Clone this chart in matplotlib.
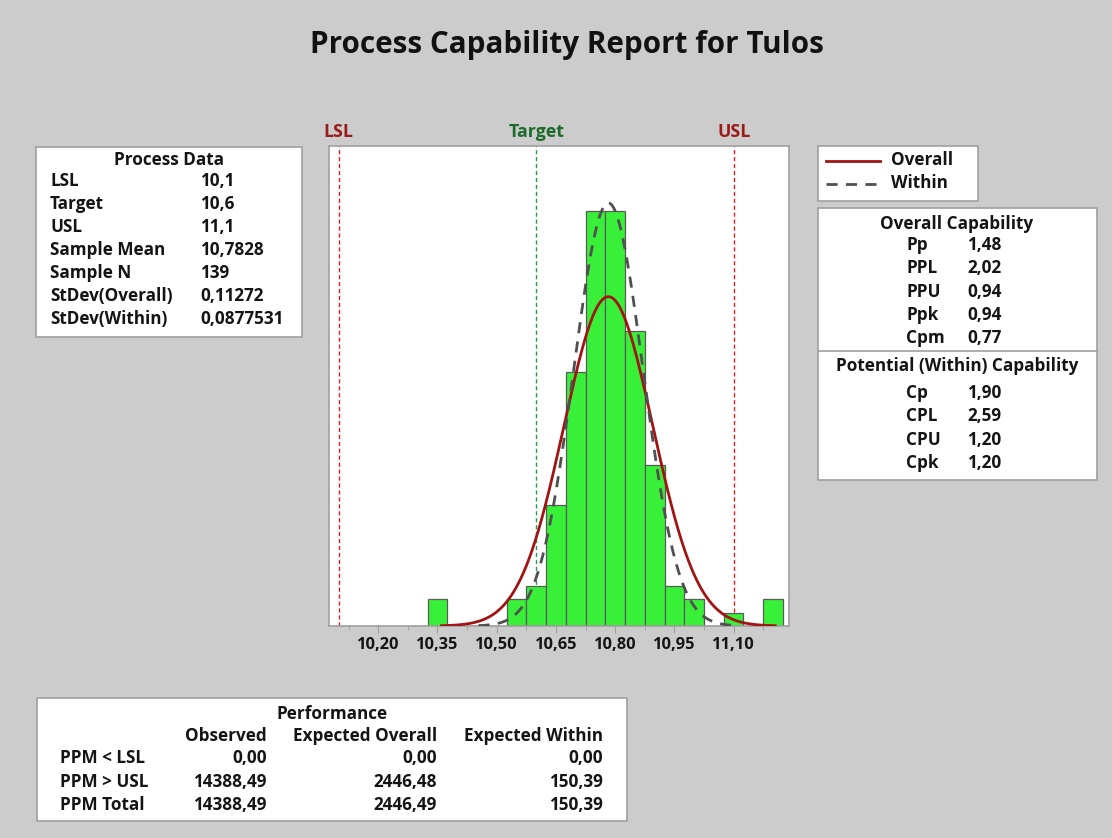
import matplotlib
matplotlib.use("Agg")
import matplotlib.pyplot as plt
import matplotlib.ticker as mticker
from matplotlib.patches import Rectangle
import numpy as np

# ---- data ----
bin_centers = [10.35, 10.40, 10.45, 10.50, 10.55, 10.60, 10.65, 10.70, 10.75,
               10.80, 10.85, 10.90, 10.95, 11.00, 11.05, 11.10, 11.15, 11.20]
bin_counts = [2, 0, 0, 0, 2, 3, 9, 19, 31, 31, 22, 12, 3, 2, 0, 1, 0, 2]
bin_width = 0.05

lsl, target, usl = 10.1, 10.6, 11.1
sample_mean = 10.7828
sample_n = 139
sd_overall = 0.11272
sd_within = 0.0877531

xtick_values = [10.20, 10.35, 10.50, 10.65, 10.80, 10.95, 11.10]

process_labels = ["LSL", "Target", "USL", "Sample Mean", "Sample N",
                  "StDev(Overall)", "StDev(Within)"]
process_values = ["10,1", "10,6", "11,1", "10,7828", "139", "0,11272", "0,0877531"]

overall_labels = ["Pp", "PPL", "PPU", "Ppk", "Cpm"]
overall_values = ["1,48", "2,02", "0,94", "0,94", "0,77"]
within_labels = ["Cp", "CPL", "CPU", "Cpk"]
within_values = ["1,90", "2,59", "1,20", "1,20"]

perf_columns = ["Observed", "Expected Overall", "Expected Within"]
perf_rows = ["PPM < LSL", "PPM > USL", "PPM Total"]
perf_observed = ["0,00", "14388,49", "14388,49"]
perf_exp_overall = ["0,00", "2446,48", "2446,49"]
perf_exp_within = ["0,00", "150,39", "150,39"]

# ---- styling ----
W, H = 1112, 838
BG = "#cccccc"
BOX_EDGE = "#a0a0a0"
plt.rcParams["font.family"] = ["Open Sans", "DejaVu Sans"]
WEIGHT = "bold"
SIZE = 12.3

fig = plt.figure(figsize=(W / 100, H / 100), dpi=100, facecolor=BG)


def fx(px):
    return px / W


def fy(py):
    return 1 - py / H


def box(x0, y0, x1, y1):
    fig.patches.append(Rectangle((fx(x0), fy(y1)), fx(x1) - fx(x0), fy(y0) - fy(y1),
                                 transform=fig.transFigure, facecolor="white",
                                 edgecolor=BOX_EDGE, linewidth=1.2, zorder=0))


def txt(x, y, s, ha="left", size=SIZE, color="#141414"):
    fig.text(fx(x), fy(y), s, ha=ha, va="center", fontsize=size, color=color,
             fontweight=WEIGHT)


fig.text(fx(567), fy(45), "Process Capability Report for Tulos", ha="center",
         va="center", fontsize=21.3, fontweight=WEIGHT, color="#111111")

# ---- histogram ----
ax = fig.add_axes([fx(329.3), fy(626), fx(789.3) - fx(329.3), fy(146) - fy(626)])
ax.set_facecolor("white")
ax.bar(bin_centers, bin_counts, width=bin_width, color="#39f039",
       edgecolor="#5a5a5a", linewidth=0.9, zorder=2)

# fitted normal curves from the reported mean / standard deviations
for sd, color, ls in [(sd_overall, "#a01414", "-"),
                      (sd_within, "#505050", (0, (4, 3)))]:
    xs = np.linspace(sample_mean - 3.75 * sd, sample_mean + 3.75 * sd, 400)
    ys = sample_n * bin_width * np.exp(-0.5 * ((xs - sample_mean) / sd) ** 2) / (sd * np.sqrt(2 * np.pi))
    ax.plot(xs, ys, color=color, linestyle=ls, linewidth=2.0, zorder=3)

for val, name, lcol, tcol in [(lsl, "LSL", "#e02020", "#9b1b1b"),
                              (target, "Target", "#2a9a4a", "#1b6b2b"),
                              (usl, "USL", "#e02020", "#9b1b1b")]:
    ax.axvline(val, color=lcol, linestyle=(0, (3, 2)), linewidth=1.0, zorder=1)
    ax.text(val, 1.03, name, transform=ax.get_xaxis_transform(), ha="center",
            va="center", fontsize=12.8, color=tcol, fontweight=WEIGHT)

ax.set_xlim(10.076, 11.241)
ax.set_ylim(0, 35.85)
ax.set_yticks([])
ax.set_xticks(xtick_values)
ax.xaxis.set_minor_locator(mticker.MultipleLocator(0.075))
ax.xaxis.set_major_formatter(mticker.FuncFormatter(lambda v, p: f"{v:.2f}".replace(".", ",")))
ax.tick_params(axis="x", which="major", length=5, color=BOX_EDGE, labelsize=11.8,
               pad=3, labelcolor="#141414")
ax.tick_params(axis="x", which="minor", length=3, color=BOX_EDGE)
for lab in ax.get_xticklabels():
    lab.set_fontweight(WEIGHT)
for sp in ax.spines.values():
    sp.set_color(BOX_EDGE)
    sp.set_linewidth(1.2)

# ---- process data box ----
box(36, 147, 302, 337)
txt(169, 160, "Process Data", ha="center")
for i, (lab, val) in enumerate(zip(process_labels, process_values)):
    y = 181.5 + i * 22.9
    txt(50, y, lab)
    txt(200, y, val)

# ---- legend ----
box(818, 146, 978, 201)
fig.lines.append(plt.Line2D([fx(826), fx(880)], [fy(161), fy(161)], transform=fig.transFigure,
                            color="#a01414", linewidth=2.0))
fig.lines.append(plt.Line2D([fx(826), fx(880)], [fy(184), fy(184)], transform=fig.transFigure,
                            color="#505050", linewidth=2.0, linestyle=(0, (4, 3))))
txt(891, 160, "Overall")
txt(891, 183, "Within")

# ---- capability box ----
box(818, 208, 1097, 480)
fig.lines.append(plt.Line2D([fx(818), fx(1097)], [fy(351), fy(351)], transform=fig.transFigure,
                            color=BOX_EDGE, linewidth=1.2))
txt(957, 224, "Overall Capability", ha="center")
for i, (lab, val) in enumerate(zip(overall_labels, overall_values)):
    y = 245 + i * 23.3
    txt(906, y, lab)
    txt(967, y, val)
txt(957, 366, "Potential (Within) Capability", ha="center")
for i, (lab, val) in enumerate(zip(within_labels, within_values)):
    y = 393 + i * 23.3
    txt(906, y, lab)
    txt(967, y, val)

# ---- performance box ----
box(37, 698, 627, 821)
txt(332, 714, "Performance", ha="center")
col_right = [267, 437, 603]
for c, name in zip(col_right, perf_columns):
    txt(c, 736, name, ha="right")
for i, row in enumerate(perf_rows):
    y = 758 + i * 23.5
    txt(60, y, row)
    for c, vals in zip(col_right, [perf_observed, perf_exp_overall, perf_exp_within]):
        txt(c, y, vals[i], ha="right")

fig.savefig("out.png", dpi=100, facecolor=BG)
